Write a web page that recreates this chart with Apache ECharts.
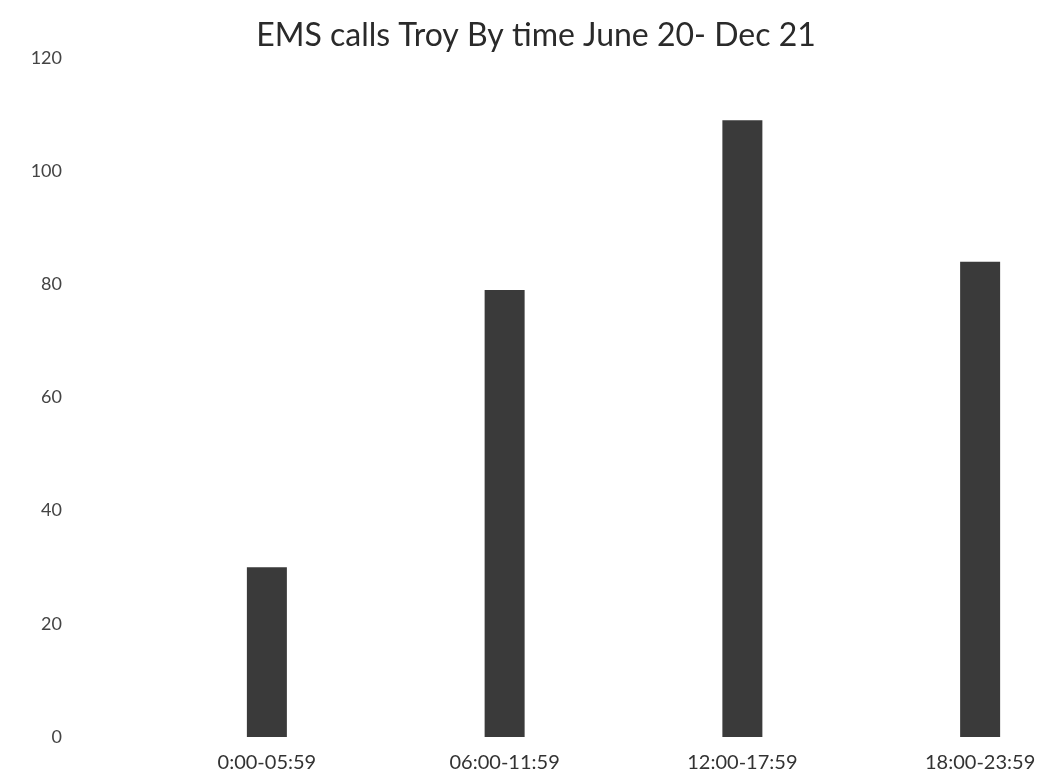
<!DOCTYPE html>
<html><head><meta charset="utf-8">
<script src="https://cdn.jsdelivr.net/npm/echarts@6/dist/echarts.min.js"></script>
<style>html,body{margin:0;padding:0;background:#fff;overflow:hidden;width:1054px;height:778px}#c{width:1110px;height:778px}</style>
</head><body><div id="c"></div>
<script>
const categories = ["0:00-05:59", "06:00-11:59", "12:00-17:59", "18:00-23:59"];
const calls = [30, 79, 109, 84];
const yTicks = [0, 20, 40, 60, 80, 100, 120];

const chart = echarts.init(document.getElementById('c'));
chart.setOption({
  backgroundColor: '#fff',
  animation: false,
  title: {
    text: 'EMS calls Troy By time June 20- Dec 21',
    left: 531, top: 15, textAlign: 'center',
    textStyle: { fontFamily: 'Lato', fontSize: 32, fontWeight: 'normal', color: '#2a2a2a' }
  },
  grid: { left: 148, top: 58, right: 11, bottom: 41, containLabel: false },
  xAxis: {
    type: 'category', data: categories,
    axisLine: { show: false }, axisTick: { show: false },
    axisLabel: { margin: 16, fontFamily: 'Lato', fontSize: 20, color: '#333' }
  },
  yAxis: {
    type: 'value', min: yTicks[0], max: yTicks[yTicks.length - 1], interval: 20,
    splitLine: { show: false }, axisLine: { show: false }, axisTick: { show: false },
    axisLabel: { margin: 86, fontFamily: 'Lato', fontSize: 18, color: '#444' }
  },
  series: [{
    type: 'bar', data: calls, barWidth: 40,
    itemStyle: { color: '#3a3a3a' }
  }]
});
</script></body></html>
